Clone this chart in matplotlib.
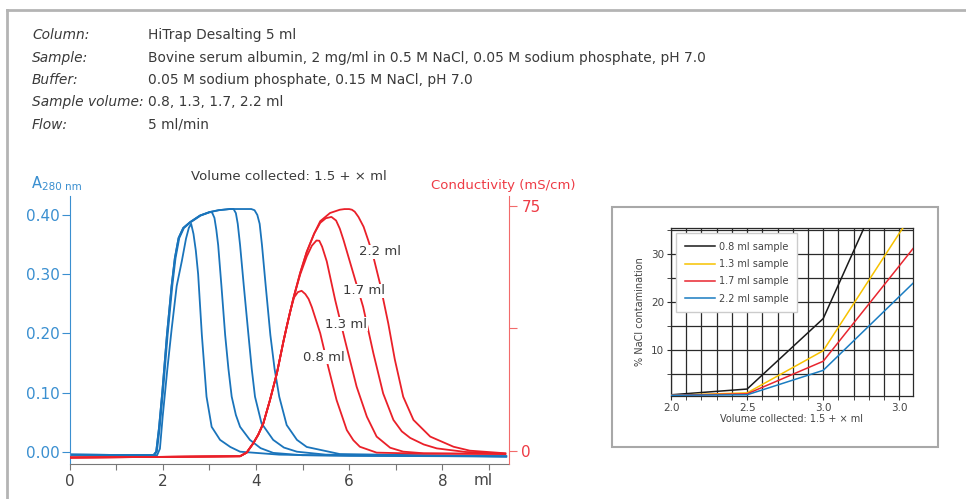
import matplotlib
matplotlib.use('Agg')
import matplotlib.pyplot as plt
from matplotlib.patches import Rectangle
from matplotlib.lines import Line2D

# ---- header text ----
header_keys = ['Column:', 'Sample:', 'Buffer:', 'Sample volume:', 'Flow:']
header_vals = ['HiTrap Desalting 5 ml',
               'Bovine serum albumin, 2 mg/ml in 0.5 M NaCl, 0.05 M sodium phosphate, pH 7.0',
               '0.05 M sodium phosphate, 0.15 M NaCl, pH 7.0',
               '0.8, 1.3, 1.7, 2.2 ml',
               '5 ml/min']

# ---- A280 traces (ml, AU) ----
a280_rise_x = [0.0, 1.0, 1.80, 1.86, 1.92, 1.99, 2.09, 2.19, 2.26, 2.34, 2.44, 2.59, 2.80, 3.01]
a280_rise_y = [-0.005, -0.0055, -0.006, 0.0, 0.04, 0.10, 0.197, 0.28, 0.327, 0.361, 0.378, 0.388, 0.399, 0.405]

a280_08_x = [0.0, 1.0, 1.88, 1.94, 2.0, 2.1, 2.19, 2.3, 2.41, 2.5, 2.56, 2.61, 2.66, 2.71, 2.76, 2.84,
             2.94, 3.05, 3.23, 3.45, 3.66, 4.5, 6.0, 9.37]
a280_08_y = [-0.005, -0.0055, -0.006, 0.005, 0.06, 0.14, 0.206, 0.28, 0.322, 0.36, 0.378, 0.385, 0.368,
             0.34, 0.30, 0.197, 0.093, 0.042, 0.020, 0.008, 0.0, -0.005, -0.007, -0.008]

a280_13_x = [3.06, 3.11, 3.15, 3.19, 3.26, 3.34, 3.41, 3.48, 3.57, 3.66, 3.87, 4.1, 4.37, 5.0, 9.37]
a280_13_y = [0.404, 0.395, 0.375, 0.349, 0.28, 0.197, 0.14, 0.093, 0.062, 0.042, 0.020, 0.006, -0.002,
             -0.006, -0.008]

a280_17_x = [3.2, 3.44, 3.52, 3.57, 3.61, 3.66, 3.74, 3.84, 3.91, 3.98, 4.12, 4.37, 4.6, 4.88, 5.5, 9.37]
a280_17_y = [0.408, 0.41, 0.41, 0.403, 0.385, 0.349, 0.28, 0.197, 0.14, 0.093, 0.048, 0.020, 0.007, 0.0,
             -0.005, -0.008]

a280_22_x = [3.2, 3.44, 3.90, 3.97, 4.03, 4.08, 4.13, 4.21, 4.31, 4.40, 4.50, 4.66, 4.88, 5.09, 5.8, 9.37]
a280_22_y = [0.408, 0.41, 0.41, 0.408, 0.40, 0.385, 0.349, 0.28, 0.197, 0.14, 0.093, 0.045, 0.020, 0.008,
             -0.004, -0.008]

# ---- conductivity traces (ml, mS/cm) ----
cond_rise_x = [0.0, 2.0, 3.66, 3.80, 3.94, 4.05, 4.16, 4.30, 4.45, 4.59, 4.66]
cond_rise_y = [-2.0, -1.8, -1.6, -0.5, 2.3, 5.0, 8.5, 15.5, 23.8, 33.5, 38.0]

cond_08_x = [4.73, 4.82, 4.90, 4.98, 5.06, 5.13, 5.20, 5.29, 5.38, 5.55, 5.73, 5.95, 6.09, 6.23, 6.59, 7.5, 9.35]
cond_08_y = [42.5, 47.0, 48.6, 49.0, 48.0, 46.5, 44.0, 40.0, 36.0, 25.8, 15.6, 6.4, 3.3, 1.3, -0.5, -0.8, -0.9]

cond_13_x = [4.80, 4.95, 5.09, 5.20, 5.30, 5.36, 5.42, 5.52, 5.70, 5.91, 6.16, 6.38, 6.59, 6.88, 7.16, 7.6, 9.35]
cond_13_y = [46.5, 54.0, 59.5, 62.8, 64.4, 64.3, 62.5, 58.0, 46.2, 33.9, 19.7, 10.5, 4.4, 1.0, -0.2, -0.7, -0.9]

cond_17_x = [4.80, 4.95, 5.09, 5.25, 5.38, 5.50, 5.62, 5.72, 5.80, 5.88, 6.09, 6.30, 6.52, 6.73, 6.95, 7.13,
             7.31, 7.6, 7.88, 8.5, 9.35]
cond_17_y = [46.5, 54.5, 60.9, 66.5, 69.8, 71.2, 71.6, 70.5, 68.0, 64.5, 54.3, 44.1, 29.9, 17.6, 9.5, 6.0,
             4.0, 2.0, 0.8, -0.3, -0.8]

cond_22_x = [4.80, 4.95, 5.09, 5.25, 5.38, 5.59, 5.80, 5.90, 6.00, 6.06, 6.12, 6.20, 6.31, 6.42, 6.52, 6.66,
             6.84, 6.98, 7.16, 7.38, 7.74, 8.24, 8.59, 9.35]
cond_22_y = [46.5, 54.5, 60.9, 66.5, 70.3, 72.8, 73.8, 74.0, 74.0, 73.8, 73.2, 71.6, 68.6, 64.0, 59.4, 51.3,
             39.0, 28.0, 16.6, 9.5, 4.4, 1.3, 0.1, -0.7]

trace_labels = ['0.8 ml', '1.3 ml', '1.7 ml', '2.2 ml']
label_x = [5.46, 5.93, 6.31, 6.67]
label_c = [28.7, 38.8, 49.0, 60.9]

# ---- inset: NaCl contamination ----
inset_x = [2.0, 2.5, 3.0, 3.5, 4.0]
nacl_08 = [0.6, 1.8, 16.5, 51.8, 87.0]
nacl_13 = [0.5, 1.0, 9.8, 34.3, 58.0]
nacl_17 = [0.5, 0.8, 7.6, 27.5, 47.5]
nacl_22 = [0.5, 0.6, 5.7, 21.1, 36.5]
inset_names = ['0.8 ml sample', '1.3 ml sample', '1.7 ml sample', '2.2 ml sample']
inset_xticks = [2.0, 2.5, 3.0, 3.5]
inset_xticklabels = ['2.0', '2.5', '3.0', '3.0']

BLUE = '#1a74bb'
BLUE_TXT = '#3a8fd0'
RED = '#ea2029'
RED_TXT = '#ee3b45'
TXT = '#3a3a3a'

W, H = 966, 499
fig = plt.figure(figsize=(W / 100, H / 100), dpi=100)

# outer frame (left + top)
fig.add_artist(Line2D([7 / W, 7 / W], [0, 1 - 10 / H], color='#b4b4b4', lw=2, transform=fig.transFigure))
fig.add_artist(Line2D([7 / W, 1], [1 - 10 / H, 1 - 10 / H], color='#b4b4b4', lw=2, transform=fig.transFigure))

for i, (k, v) in enumerate(zip(header_keys, header_vals)):
    yy = 1 - [35, 58, 80, 102, 125][i] / H
    fig.text(32 / W, yy, k, style='italic', fontsize=9.9, color=TXT, va='center')
    fig.text(148 / W, yy, v, fontsize=9.9, color=TXT, va='center')

# ---- main chromatogram ----
ax = fig.add_axes([69.5 / W, 1 - 464.3 / H, (509 - 69.5) / W, (464.3 - 196) / H])
ax.set_xlim(0, 9.43)
ax.set_ylim(-0.0213, 0.432)

lkw = dict(lw=1.3, solid_joinstyle='round')
ax.plot(a280_08_x, a280_08_y, color=BLUE, **lkw)
ax.plot(a280_rise_x + a280_13_x, a280_rise_y + a280_13_y, color=BLUE, **lkw)
ax.plot([x + 0.015 for x in a280_rise_x] + a280_17_x, a280_rise_y + a280_17_y, color=BLUE, **lkw)
ax.plot(a280_rise_x + a280_22_x, a280_rise_y + a280_22_y, color=BLUE, **lkw)

for s in ['top', 'right']:
    ax.spines[s].set_visible(False)
ax.spines['left'].set_color(BLUE_TXT)
ax.spines['bottom'].set_color('#777777')
ax.set_yticks([0.0, 0.1, 0.2, 0.3, 0.4])
ax.set_yticklabels(['0.00', '0.10', '0.20', '0.30', '0.40'])
ax.tick_params(axis='y', colors=BLUE_TXT, labelsize=11, length=6, pad=1)
ax.set_xticks(range(0, 10))
ax.set_xticklabels(['0', '', '2', '', '4', '', '6', '', '8', ''])
ax.tick_params(axis='x', colors='#777777', labelcolor='#444444', labelsize=11, length=4, pad=3)
ax.text(8.87, -0.049, 'ml', fontsize=11, color='#444444', ha='center', va='center')

ax2 = ax.twinx()
ax2.set_ylim(-4.07, 78.0)
ax2.plot(cond_rise_x + cond_08_x, cond_rise_y + cond_08_y, color=RED, **lkw)
ax2.plot(cond_rise_x + cond_13_x, cond_rise_y + cond_13_y, color=RED, **lkw)
ax2.plot(cond_rise_x + cond_17_x, cond_rise_y + cond_17_y, color=RED, **lkw)
ax2.plot(cond_rise_x + cond_22_x, cond_rise_y + cond_22_y, color=RED, **lkw)
for s in ['top', 'left', 'bottom']:
    ax2.spines[s].set_visible(False)
ax2.spines['right'].set_color('#f26b6b')
ax2.set_yticks([0, 37.5, 75])
ax2.set_yticklabels(['0', '', '75'])
ax2.tick_params(axis='y', colors='#f26b6b', labelcolor=RED_TXT, labelsize=11, length=6, pad=3)

for t, xx, cc in zip(trace_labels, label_x, label_c):
    ax2.text(xx, cc, t, fontsize=9.5, color=TXT, ha='center', va='center', zorder=5,
             bbox=dict(facecolor='white', edgecolor='none', pad=0.5))

fig.text(32 / W, 1 - 183 / H, 'A', fontsize=10.5, color=BLUE_TXT, va='center')
fig.text(42 / W, 1 - 187 / H, '280 nm', fontsize=7.5, color=BLUE_TXT, va='center')
fig.text(289 / W, 1 - 177 / H, 'Volume collected: 1.5 + \u00d7 ml', fontsize=9.5, color=TXT,
         ha='center', va='center')
fig.text(503.5 / W, 1 - 185 / H, 'Conductivity (mS/cm)', fontsize=9.5, color=RED_TXT,
         ha='center', va='center')

# ---- inset ----
fig.add_artist(Rectangle((612 / W, 1 - 447 / H), (938 - 612) / W, (447 - 207) / H,
                         transform=fig.transFigure, fill=False, edgecolor='#a8a8a8', lw=1.5))
axi = fig.add_axes([671 / W, 1 - 396 / H, (913 - 671) / W, (396 - 228) / H])
axi.set_xlim(2.0, 3.59)
axi.set_ylim(0.35, 35.4)
axi.set_xticks([2.0 + 0.1 * i for i in range(16)], minor=True)
axi.set_yticks([5, 15, 25, 35], minor=True)
axi.set_yticks([10, 20, 30])
axi.set_xticks(inset_xticks)
axi.set_xticklabels(inset_xticklabels)
axi.grid(True, which='both', color='#2a2a2a', lw=0.9)
axi.tick_params(which='both', length=3, color='#2a2a2a', labelsize=7.5, labelcolor='#444444', pad=2)
for s in axi.spines.values():
    s.set_color('#2a2a2a')
    s.set_linewidth(0.9)
for yv, c, n in zip([nacl_08, nacl_13, nacl_17, nacl_22],
                    ['#1a1a1a', '#f7c200', '#e8262f', '#1a7cc1'], inset_names):
    axi.plot(inset_x, yv, color=c, lw=1.1, label=n, zorder=3)
axi.set_xlabel('Volume collected: 1.5 + \u00d7 ml', fontsize=7, color='#444444', labelpad=1)
axi.set_ylabel('% NaCl contamination', fontsize=7, color='#444444', labelpad=4)
leg = axi.legend(loc='upper left', bbox_to_anchor=(0.021, 0.97), borderaxespad=0, fontsize=7,
                 handlelength=3.1, handletextpad=0.4, labelspacing=0.75, borderpad=0.9,
                 fancybox=False, framealpha=1, edgecolor='#cccccc')
for t in leg.get_texts():
    t.set_color('#444444')
leg.set_zorder(10)

fig.savefig('out.png', dpi=100)
